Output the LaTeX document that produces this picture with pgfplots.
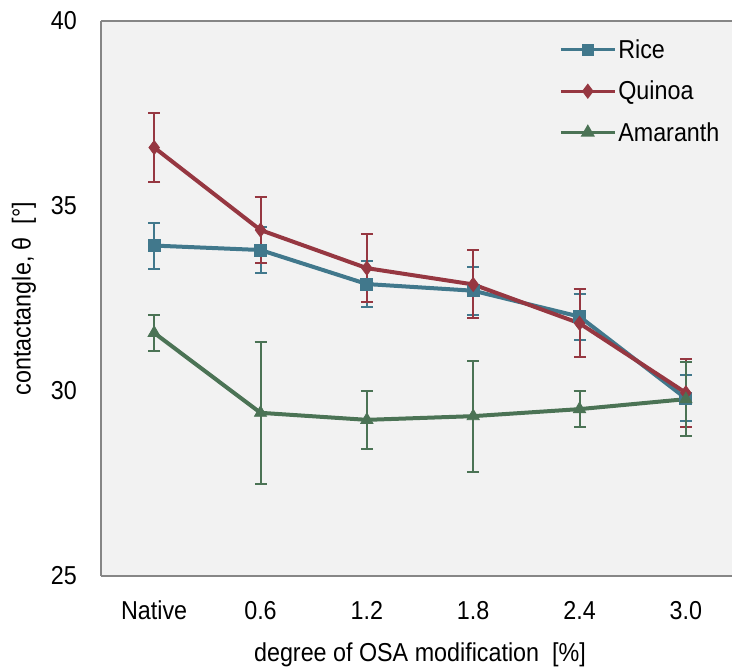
\documentclass[border=0pt]{standalone}
\usepackage{fontspec}
\setmainfont{Liberation Sans}[FakeStretch=0.9]
\usepackage{pgfplots}
\pgfplotsset{compat=1.18}
\definecolor{rice}{HTML}{41788C}
\definecolor{quinoa}{HTML}{963741}
\definecolor{amar}{HTML}{4B7355}
\definecolor{bg}{HTML}{F2F2F2}
\definecolor{axgray}{HTML}{868686}
\begin{document}
\begin{tikzpicture}[x=1bp,y=1bp]
\useasboundingbox (0,0) rectangle (732,669);
\begin{axis}[
  at={(101bp,93bp)}, anchor=south west,
  scale only axis, width=631bp, height=555bp,
  xmin=-0.5, xmax=5.434, ymin=25, ymax=40,
  axis background/.style={fill=bg},
  axis x line*=box, axis y line*=left,
  axis line style={draw=axgray, line width=2bp},
  major tick length=0pt,
  xtick={0,1,2,3,4,5},
  xticklabels={Native,0.6,1.2,1.8,2.4,3.0},
  ytick={25,30,35,40},
  /pgf/number format/assume math mode=true,
  ticklabel style={font=\fontsize{26}{30}\selectfont, inner sep=0pt},
  yticklabel style={anchor=east, xshift=-24bp},
  xticklabel style={anchor=north, yshift=-25bp},
  xlabel={degree of OSA modification\ \ [\%]},
  ylabel={contactangle, θ\ \ [°]},
  every axis x label/.style={at={(axis description cs:0.5055,0)}, anchor=center, yshift=-79bp, font=\fontsize{26}{30}\selectfont},
  every axis y label/.style={at={(axis description cs:0,0.5)}, xshift=-77bp, rotate=90, anchor=center, font=\fontsize{26}{30}\selectfont},
  legend style={at={(axis description cs:0.726,0.97)}, anchor=north west, draw=none, fill=none,
    font=\fontsize{26}{30}\selectfont, inner sep=0pt, row sep=17bp,
    nodes={inner sep=2bp}, cells={anchor=west}},
  legend image code/.code={\draw[mark repeat=2,mark phase=2,#1, line width=3bp, mark options={solid, scale=0.75}] plot coordinates {(0bp,0bp) (27bp,0bp) (54bp,0bp)};},
  error bars/error bar style={line width=2bp},
  error bars/error mark options={rotate=90, mark size=6bp, line width=2bp},
  clip=false,
]
\addplot[rice, line width=4bp, mark=square*, mark size=6bp, mark options={solid, line width=0.8bp},
  error bars/.cd, y dir=both, y explicit]
  table[x=x, y=y, y error=e] {
x y e
0 33.93 0.62
1 33.81 0.62
2 32.89 0.62
3 32.71 0.65
4 32.01 0.62
5 29.80 0.62
};
\addlegendentry{Rice}
\addplot[quinoa, line width=4bp, mark=diamond*, mark size=7bp, mark options={solid, line width=0.8bp},
  error bars/.cd, y dir=both, y explicit]
  table[x=x, y=y, y error=e] {
x y e
0 36.58 0.92
1 34.35 0.89
2 33.32 0.92
3 32.88 0.92
4 31.83 0.92
5 29.95 0.92
};
\addlegendentry{Quinoa}
\addplot[amar, line width=4bp, mark=triangle*, mark size=7bp, mark options={solid, line width=0.8bp},
  error bars/.cd, y dir=both, y explicit]
  table[x=x, y=y, y error=e] {
x y e
0 31.57 0.49
1 29.41 1.92
2 29.22 0.78
3 29.32 1.50
4 29.51 0.49
5 29.78 1.00
};
\addlegendentry{Amaranth}
\end{axis}
\end{tikzpicture}
\end{document}
